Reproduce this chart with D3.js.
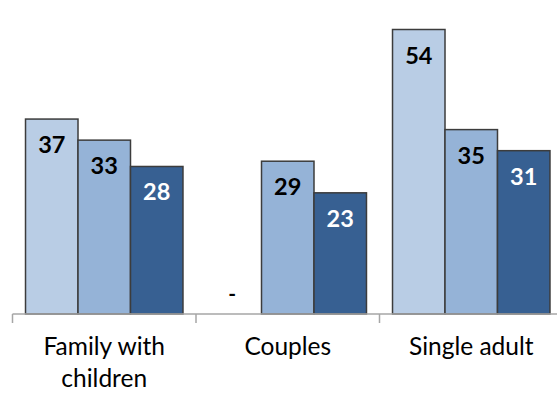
<!DOCTYPE html>
<html>
<head>
<meta charset="utf-8">
<script src="https://cdn.jsdelivr.net/npm/d3@7/dist/d3.min.js"></script>
<style>
  html, body { margin: 0; padding: 0; background: #ffffff; }
  svg { display: block; }
  text { font-family: Lato, "Open Sans", sans-serif; }
</style>
</head>
<body>
<svg id="chart" width="557" height="394"></svg>
<script>
// Household types along the axis (label lines per category)
const categories = ["Family with children", "Couples", "Single adult"];
const categoryLines = [["Family with", "children"], ["Couples"], ["Single adult"]];

// Three series per household type; null = no value (shown as "-")
const seriesNames = ["s1", "s2", "s3"];
const series1 = [37, null, 54];
const series2 = [33, 29, 35];
const series3 = [28, 23, 31];

const seriesColors = ["#b9cde5", "#95b3d7", "#376092"];
const labelColors = ["#000000", "#000000", "#ffffff"];

const svg = d3.select("#chart");
const baseY = 314;

const x0 = d3.scaleBand().domain(categories).range([12.5, 563]).paddingInner(0).paddingOuter(0);
const x1 = d3.scaleBand().domain(seriesNames).range([0, x0.bandwidth()]).paddingInner(0).paddingOuter(0.248);
const y = d3.scaleLinear().domain([0, 54]).range([baseY, 29.5]);

const allSeries = [series1, series2, series3];
const rows = [];
categories.forEach((c, i) => {
  allSeries.forEach((s, j) => {
    rows.push({ cat: c, key: seriesNames[j], idx: j, value: s[i] });
  });
});

const g = svg.append("g");

// Bars
g.selectAll("rect.bar")
  .data(rows.filter(d => d.value != null))
  .join("rect")
  .attr("class", "bar")
  .attr("x", d => x0(d.cat) + x1(d.key))
  .attr("y", d => y(d.value))
  .attr("width", x1.bandwidth())
  .attr("height", d => baseY - y(d.value))
  .attr("fill", d => seriesColors[d.idx])
  .attr("stroke", "#3c3c3c")
  .attr("stroke-width", 1.5);

// Value labels, inside the top of each bar
g.selectAll("text.val")
  .data(rows)
  .join("text")
  .attr("class", "val")
  .attr("x", d => x0(d.cat) + x1(d.key) + x1.bandwidth() / 2 - (d.value != null ? 0 : 3))
  .attr("y", d => d.value != null ? y(d.value) + 34 : baseY - 13)
  .attr("text-anchor", "middle")
  .attr("font-size", d => d.value != null ? 23.5 : 21)
  .attr("font-weight", "bold")
  .attr("fill", d => d.value != null ? labelColors[d.idx] : "#000000")
  .text(d => d.value != null ? d.value : "-");

// Axis line and tick marks at category boundaries
const axisG = svg.append("g");
axisG.append("line")
  .attr("x1", 12.5).attr("x2", 557)
  .attr("y1", baseY).attr("y2", baseY)
  .attr("stroke", "#a6a6a6").attr("stroke-width", 1.5);

const boundaries = categories.map(c => x0(c)).concat([x0.range()[1]]);
axisG.selectAll("line.tick")
  .data(boundaries)
  .join("line")
  .attr("class", "tick")
  .attr("x1", d => d).attr("x2", d => d)
  .attr("y1", baseY).attr("y2", baseY + 9)
  .attr("stroke", "#a6a6a6").attr("stroke-width", 1.5);

// Category labels
const labelG = axisG.selectAll("text.cat")
  .data(categories)
  .join("text")
  .attr("class", "cat")
  .attr("text-anchor", "middle")
  .attr("font-size", 24.5)
  .attr("fill", "#000000");

labelG.each(function(c, i) {
  const t = d3.select(this);
  categoryLines[i].forEach((line, k) => {
    t.append("tspan")
      .attr("x", x0(c) + x0.bandwidth() / 2)
      .attr("y", 355 + k * 32)
      .text(line);
  });
});
</script>
</body>
</html>
